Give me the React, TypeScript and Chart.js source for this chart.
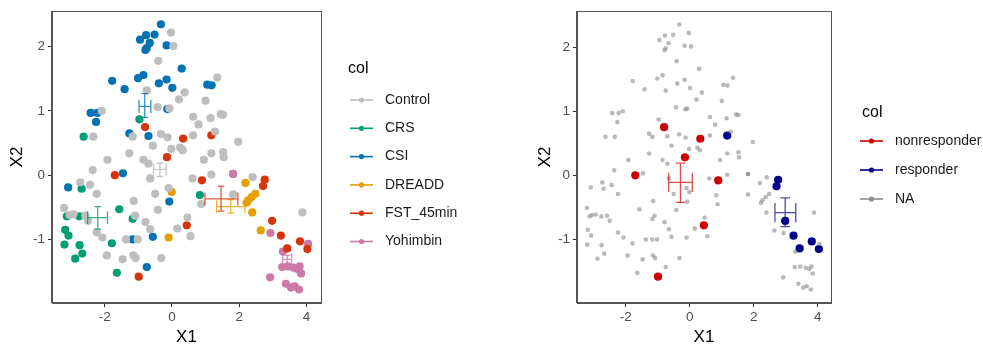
import { useEffect, useRef } from 'react';
import { Chart, registerables } from 'chart.js';

Chart.register(...registerables);

type P = [number, number];

const FONT = "'Liberation Sans', Arial, Helvetica, sans-serif";

// ---------------- data ----------------
const control: P[] = [
  [-0.03, 2.22], [0.04, 2.01], [-0.41, 1.78], [1.35, 1.52], [0.38, 1.29], [0.21, 1.18],
  [1.0, 1.16], [-0.75, 1.32], [-0.43, 1.06], [-0.08, 1.04], [-2.09, 1.0], [0.63, 0.91],
  [1.15, 0.89], [1.45, 0.95], [1.52, 0.94], [0.79, 0.79], [1.28, 0.68], [-2.34, 0.6],
  [-1.17, 0.6], [-0.33, 0.64], [-0.13, 0.59], [0.63, 0.62], [1.97, 0.52], [-0.57, 0.46],
  [-0.02, 0.41], [0.24, 0.43], [0.32, 0.39], [-1.27, 0.34], [1.17, 0.34], [1.52, 0.36],
  [1.54, 0.28], [0.95, 0.24], [-1.92, 0.24], [-0.85, 0.24], [-0.7, 0.18], [-2.36, 0.08],
  [0.61, -0.05], [1.17, 0.01], [-0.65, -0.05], [2.4, -0.03], [-2.73, -0.11],
  [-2.44, -0.15], [-0.1, -0.2], [-2.24, -0.29], [-0.5, -0.29], [1.82, -0.3], [0.87, -0.45],
  [-1.14, -0.4], [-0.42, -0.54], [-3.21, -0.51], [3.88, -0.58], [0.46, -0.66], [-1.1, -0.63],
  [-0.79, -0.73], [-0.65, -0.84], [0.16, -0.83], [0.55, -0.95], [-2.5, -0.71], [-2.24, -0.89],
  [-2.07, -0.97], [-1.37, -1.0], [-1.02, -1.0], [-1.47, -1.31], [-1.94, -1.25], [-1.15, -1.25],
  [-1.08, -1.29], [-0.32, -1.29], [-3.05, -0.62], [-2.93, -0.61], [-2.58, -0.63],
];
const controlLate: P[] = [[1.82, 0.02]];

const crs: P[] = [
  [-0.97, 0.87], [-2.63, 0.6], [-2.69, -0.21], [-3.13, -0.64], [-2.76, -0.64], [-1.57, -0.53],
  [-1.17, -0.68], [-3.18, -0.85], [-3.08, -0.94], [-3.2, -1.08], [-2.75, -1.09], [-2.67, -1.22],
  [-2.88, -1.3], [-1.79, -1.06], [-1.64, -1.52], [0.83, -0.31],
];

const csi: P[] = [
  [-0.33, 2.35], [-0.95, 2.11], [-0.77, 2.18], [-0.52, 2.19], [-0.66, 2.06], [-0.75, 1.98],
  [-0.79, 1.95], [-0.16, 2.02], [0.29, 1.66], [-1.01, 1.51], [-0.85, 1.56], [-1.78, 1.47],
  [-1.41, 1.34], [-0.39, 1.43], [-0.16, 1.49], [0.01, 1.36], [-0.14, 1.03], [-2.42, 0.97],
  [-2.22, 0.97], [-2.26, 0.83], [-1.27, 0.65], [-0.7, 0.61], [1.05, 1.41], [1.18, 1.4],
  [-1.46, 0.03], [-3.09, -0.19], [-0.08, -0.41], [-1.17, -1.0], [-0.57, -0.96], [-0.75, -1.43],
];

const dreadd: P[] = [
  [2.19, -0.12], [-0.01, -0.26], [2.48, -0.29], [2.37, -0.34], [2.27, -0.39], [2.22, -0.43],
  [2.39, -0.58], [2.64, -0.86], [-0.1, -0.97],
];

const fstNonresponder: P[] = [
  [-0.8, 0.75], [0.33, 0.57], [-0.15, 0.28], [-1.7, 0.0], [0.89, -0.08], [0.44, -0.78], [-0.99, -1.58],
];
const fstResponder: P[] = [
  [1.17, 0.62], [2.76, -0.07], [2.71, -0.17], [2.98, -0.71], [3.24, -0.94], [3.43, -1.14],
  [3.81, -1.03], [4.03, -1.15],
];

const yohimbin: P[] = [
  [1.82, 0.02], [2.93, -0.9], [4.05, -1.07], [3.3, -1.19], [3.28, -1.43], [3.45, -1.42],
  [3.62, -1.44], [3.73, -1.46], [3.8, -1.42], [3.84, -1.53], [2.92, -1.59], [3.39, -1.69],
  [3.54, -1.75], [3.65, -1.73], [3.78, -1.78],
];

const groupNames = ['Control', 'CRS', 'CSI', 'DREADD', 'FST_45min', 'Yohimbin'];
const responseNames = ['nonresponder', 'responder', 'NA'];

// group means with error bars: [cx, cy, xLow, xHigh, yLow, yHigh]
const groupBars: number[][] = [
  [-0.36, 0.09, -0.55, -0.17, -0.02, 0.19],
  [-2.21, -0.66, -2.51, -1.92, -0.84, -0.49],
  [-0.81, 1.07, -0.98, -0.63, 0.9, 1.27],
  [1.75, -0.49, 1.33, 2.17, -0.59, -0.38],
  [1.46, -0.37, 0.98, 1.96, -0.56, -0.17],
  [3.43, -1.31, 3.29, 3.56, -1.4, -1.25],
];
const responseBars: number[][] = [
  [-0.29, -0.11, -0.66, 0.08, -0.42, 0.19],
  [2.98, -0.58, 2.66, 3.31, -0.8, -0.35],
];

const xTicks = [-2, 0, 2, 4];
const yTicks = [-1, 0, 1, 2];

// ---------------- styles ----------------
const groupColors = ['#BEBEBE', '#009E73', '#0072B2', '#E69F00', '#D6340A', '#CC79A7'];
const groupBarColors = [
  'rgba(190,190,190,0.85)', 'rgba(0,158,115,0.8)', 'rgba(0,114,178,0.8)',
  'rgba(230,159,0,0.8)', 'rgba(214,52,10,0.8)', 'rgba(204,121,167,0.8)',
];
const responseColors = ['#CC0000', '#00008B', 'rgba(128,128,128,0.55)'];
const responseLegendColors = ['#CC0000', '#00008B', '#8C8C8C'];
const responseBarColors = ['rgba(204,0,0,0.7)', 'rgba(0,0,139,0.7)'];

const toXY = (arr: P[]) => arr.map(([x, y]) => ({ x, y }));

function ds(data: P[], color: string, r: number) {
  return {
    data: toXY(data),
    backgroundColor: color,
    borderColor: color,
    borderWidth: 0,
    pointRadius: r,
    pointHoverRadius: r,
  };
}

function scales(xMin: number, xMax: number, yMin: number, yMax: number, yWidth: number) {
  const tickFont = { family: FONT, size: 13.5 };
  return {
    x: {
      type: 'linear',
      position: 'bottom',
      min: xMin,
      max: xMax,
      afterBuildTicks: (ax: any) => { ax.ticks = xTicks.map((v) => ({ value: v })); },
      afterFit: (ax: any) => { ax.height = 45; },
      grid: { display: true, drawOnChartArea: false, drawTicks: true, tickLength: 4, tickColor: '#333', tickWidth: 1 },
      border: { display: true, color: '#555', width: 1 },
      ticks: { color: '#4D4D4D', font: tickFont, padding: 2, maxRotation: 0, autoSkip: false },
      title: { display: true, text: 'X1', color: '#000', font: { family: FONT, size: 17 }, padding: { top: 0, bottom: 0 } },
    },
    y: {
      type: 'linear',
      position: 'left',
      min: yMin,
      max: yMax,
      afterBuildTicks: (ax: any) => { ax.ticks = yTicks.map((v) => ({ value: v })); },
      afterFit: (ax: any) => { ax.width = yWidth; },
      grid: { display: true, drawOnChartArea: false, drawTicks: true, tickLength: 4, tickColor: '#333', tickWidth: 1 },
      border: { display: true, color: '#555', width: 1 },
      ticks: { color: '#4D4D4D', font: tickFont, padding: 3, autoSkip: false },
      title: { display: true, text: 'X2', color: '#000', font: { family: FONT, size: 17 }, padding: { top: 7, bottom: 0 } },
    },
  };
}

interface DecoOpts {
  bars: number[][];
  barColors: string[];
  capX: number;
  capY: number;
  legendTitleX: number;
  legendTitleY: number;
  keyX0: number;
  keyX1: number;
  textX: number;
  firstY: number;
  stepY: number;
  names: string[];
  keyColors: string[];
}

function decoPlugin(o: DecoOpts) {
  return {
    id: 'deco',
    afterDatasetsDraw(chart: any) {
      const ctx = chart.ctx;
      const xs = chart.scales.x;
      const ys = chart.scales.y;
      ctx.save();
      ctx.lineWidth = 1.3;
      o.bars.forEach((b, i) => {
        const [cx, cy, xl, xh, yl, yh] = b;
        ctx.strokeStyle = o.barColors[i];
        const px = xs.getPixelForValue(cx);
        const py = ys.getPixelForValue(cy);
        const pyl = ys.getPixelForValue(yl);
        const pyh = ys.getPixelForValue(yh);
        const pxl = xs.getPixelForValue(xl);
        const pxh = xs.getPixelForValue(xh);
        const capW = xs.getPixelForValue(cx + o.capX / 2) - px;
        const capH = py - ys.getPixelForValue(cy + o.capY / 2);
        ctx.beginPath();
        ctx.moveTo(px, pyl); ctx.lineTo(px, pyh);
        ctx.moveTo(px - capW, pyl); ctx.lineTo(px + capW, pyl);
        ctx.moveTo(px - capW, pyh); ctx.lineTo(px + capW, pyh);
        ctx.moveTo(pxl, py); ctx.lineTo(pxh, py);
        ctx.moveTo(pxl, py - capH); ctx.lineTo(pxl, py + capH);
        ctx.moveTo(pxh, py - capH); ctx.lineTo(pxh, py + capH);
        ctx.stroke();
      });
      ctx.restore();
    },
    afterDraw(chart: any) {
      const ctx = chart.ctx;
      const a = chart.chartArea;
      ctx.save();
      ctx.strokeStyle = '#555';
      ctx.lineWidth = 1;
      ctx.strokeRect(Math.round(a.left) - 0.5, Math.round(a.top) + 0.5, Math.round(a.right - a.left) + 1, Math.round(a.bottom - a.top) - 1);
      ctx.fillStyle = '#000';
      ctx.textBaseline = 'middle';
      ctx.textAlign = 'left';
      ctx.font = `16px ${FONT}`;
      ctx.fillText('col', o.legendTitleX, o.legendTitleY);
      ctx.font = `14px ${FONT}`;
      o.names.forEach((n, i) => {
        const y = o.firstY + i * o.stepY;
        ctx.strokeStyle = o.keyColors[i];
        ctx.fillStyle = o.keyColors[i];
        ctx.lineWidth = 1.6;
        ctx.beginPath();
        ctx.moveTo(o.keyX0, y);
        ctx.lineTo(o.keyX1, y);
        ctx.stroke();
        ctx.beginPath();
        ctx.arc((o.keyX0 + o.keyX1) / 2, y, 2.6, 0, Math.PI * 2);
        ctx.fill();
        ctx.fillStyle = '#1A1A1A';
        ctx.fillText(n, o.textX, y);
      });
      ctx.restore();
    },
  };
}

export default function App() {
  const leftRef = useRef<HTMLCanvasElement>(null);
  const rightRef = useRef<HTMLCanvasElement>(null);

  useEffect(() => {
    const R = 4.1;
    const left = new Chart(leftRef.current as HTMLCanvasElement, {
      type: 'scatter',
      data: {
        datasets: [
          ds(control, groupColors[0], R),
          ds(crs, groupColors[1], R),
          ds(csi, groupColors[2], R),
          ds(dreadd, groupColors[3], R),
          ds([...fstNonresponder, ...fstResponder], groupColors[4], R),
          ds(yohimbin, groupColors[5], R),
          ds(controlLate, groupColors[0], R),
        ],
      } as any,
      options: {
        animation: false,
        responsive: false,
        devicePixelRatio: 1,
        events: [],
        layout: { padding: { left: 0, top: 10, right: 169, bottom: 0 } },
        plugins: { legend: { display: false }, tooltip: { enabled: false } },
        scales: scales(-3.571, 4.435, -1.99, 2.555, 52) as any,
      },
      plugins: [
        decoPlugin({
          bars: groupBars,
          barColors: groupBarColors,
          capX: 0.2,
          capY: 0.2,
          legendTitleX: 348,
          legendTitleY: 69,
          keyX0: 350,
          keyX1: 373,
          textX: 385,
          firstY: 100,
          stepY: 28.3,
          names: groupNames,
          keyColors: groupColors,
        }),
      ],
    });

    const right = new Chart(rightRef.current as HTMLCanvasElement, {
      type: 'scatter',
      data: {
        datasets: [
          ds([...control, ...controlLate, ...crs, ...csi, ...dreadd, ...yohimbin], responseColors[2], 2.3),
          ds(fstNonresponder, responseColors[0], R),
          ds(fstResponder, responseColors[1], R),
        ],
      } as any,
      options: {
        animation: false,
        responsive: false,
        devicePixelRatio: 1,
        events: [],
        layout: { padding: { left: 38, top: 9, right: 152, bottom: 0 } },
        plugins: { legend: { display: false }, tooltip: { enabled: false } },
        scales: scales(-3.52, 4.41, -1.99, 2.56, 49) as any,
      },
      plugins: [
        decoPlugin({
          bars: responseBars,
          barColors: responseBarColors,
          capX: 0.3,
          capY: 0.3,
          legendTitleX: 372,
          legendTitleY: 113,
          keyX0: 370,
          keyX1: 393,
          textX: 405,
          firstY: 141,
          stepY: 29,
          names: responseNames,
          keyColors: responseLegendColors,
        }),
      ],
    });

    return () => {
      left.destroy();
      right.destroy();
    };
  }, []);

  return (
    <div style={{ position: 'fixed', left: 0, top: 0, width: 983, height: 348, background: '#fff' }}>
      <canvas ref={leftRef} width={490} height={348} style={{ position: 'absolute', left: 0, top: 0, width: 490, height: 348 }} />
      <canvas ref={rightRef} width={493} height={348} style={{ position: 'absolute', left: 490, top: 0, width: 493, height: 348 }} />
    </div>
  );
}
